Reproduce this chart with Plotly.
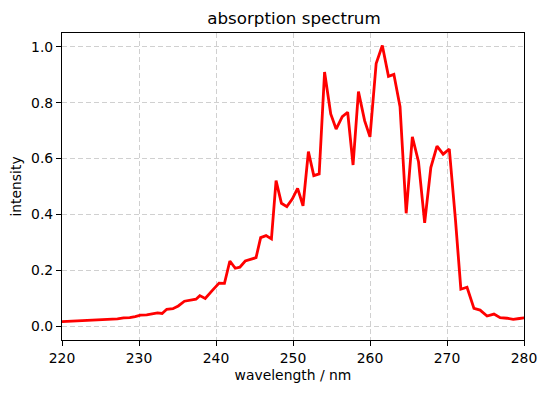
import plotly.graph_objects as go

wavelength = [
    220.0, 220.8, 221.6, 222.4, 223.2, 224.0, 224.8, 225.6, 226.4, 227.2,
    228.0, 228.8, 229.5, 230.2, 231.0, 231.7, 232.4, 233.0, 233.6, 234.4,
    235.1, 235.9, 236.8, 237.4, 237.9, 238.6, 239.5, 240.4, 241.1, 241.8,
    242.5, 243.1, 243.8, 244.5, 245.2, 245.8, 246.5, 247.2, 247.8, 248.5,
    249.2, 249.9, 250.6, 251.3, 252.0, 252.7, 253.4, 254.1, 254.9, 255.6,
    256.4, 257.1, 257.8, 258.5, 259.3, 260.0, 260.8, 261.6, 262.4, 263.1,
    263.9, 264.7, 265.5, 266.3, 267.1, 267.9, 268.7, 269.5, 270.3, 271.1,
    271.8, 272.6, 273.5, 274.3, 275.2, 276.1, 276.9, 277.8, 278.6, 279.4,
    280.2,
]
intensity = [
    0.016, 0.017, 0.017, 0.018, 0.019, 0.020, 0.022, 0.022, 0.025, 0.026,
    0.029, 0.030, 0.034, 0.039, 0.040, 0.043, 0.047, 0.045, 0.060, 0.062,
    0.072, 0.089, 0.092, 0.096, 0.109, 0.099, 0.127, 0.154, 0.153, 0.233,
    0.207, 0.211, 0.233, 0.239, 0.245, 0.317, 0.324, 0.312, 0.521, 0.440,
    0.428, 0.455, 0.493, 0.431, 0.625, 0.539, 0.545, 0.910, 0.760, 0.706,
    0.750, 0.766, 0.577, 0.840, 0.736, 0.678, 0.941, 1.005, 0.895, 0.902,
    0.786, 0.404, 0.678, 0.589, 0.370, 0.568, 0.645, 0.616, 0.634, 0.380,
    0.132, 0.139, 0.063, 0.057, 0.036, 0.043, 0.030, 0.028, 0.024, 0.027,
    0.030,
]
x_ticks = [220, 230, 240, 250, 260, 270, 280]
y_ticks = [0.0, 0.2, 0.4, 0.6, 0.8, 1.0]

FONT = "DejaVu Sans"
TICK_SIZE = 13.9

fig = go.Figure()
fig.add_trace(go.Scatter(
    x=wavelength, y=intensity, mode="lines",
    line=dict(color="red", width=2.8),
    showlegend=False, hoverinfo="skip",
))

axis_common = dict(
    showline=True, linecolor="black", linewidth=1.1, mirror=True,
    ticks="outside", ticklen=5, tickwidth=1.1, tickcolor="black",
    showgrid=True, gridcolor="#d0d0d0", gridwidth=1.1, griddash="5px,3px",
    zeroline=False,
    tickfont=dict(family=FONT, size=TICK_SIZE, color="black"),
)

fig.update_layout(
    width=549, height=393,
    margin=dict(l=62, r=23, t=33, b=53),
    paper_bgcolor="white", plot_bgcolor="white",
    title=dict(text="absorption spectrum", x=(62 + 526) / 2 / 549, xanchor="center",
               y=1 - 18 / 393, yanchor="middle",
               font=dict(family=FONT, size=16.7, color="black")),
    xaxis=dict(range=[220, 280], tickvals=x_ticks,
               ticktext=[str(v) for v in x_ticks],
               title=dict(text="wavelength / nm", standoff=5,
                          font=dict(family=FONT, size=TICK_SIZE, color="black")),
               **axis_common),
    yaxis=dict(range=[-0.05, 1.05], tickvals=y_ticks,
               ticktext=[f"{v:.1f}" for v in y_ticks],
               title=dict(text="intensity", standoff=6,
                          font=dict(family=FONT, size=TICK_SIZE, color="black")),
               **axis_common),
)

fig.write_html("out.html", config={"displayModeBar": False},
               post_script="document.body.style.margin='0';")
